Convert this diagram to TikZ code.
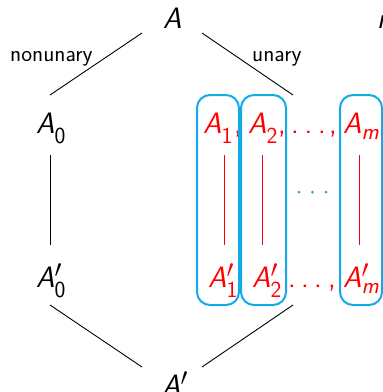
\documentclass[tikz,border=0pt]{standalone}
\usepackage{amsmath}
\usepackage{fontspec}
\usetikzlibrary{positioning}
\definecolor{boxblue}{RGB}{20,170,230}
\DeclareMathSizes{29.5}{29.5}{23}{17}
% sans oblique variable with optional prime and subscript
\newcommand{\vsym}[2]{\textsf{\slshape A}$^{#1}_{\textsf{#2}}$}
\newcommand{\vsl}[1]{\textsf{\slshape #1}}
\tikzset{
  mv/.style={font=\fontsize{29.5}{34}\selectfont\sffamily, inner sep=0pt, anchor=base west},
  pun/.style={font=\fontsize{29.5}{34}\selectfont\sffamily, inner sep=0pt, anchor=base, text=red},
  elabel/.style={font=\fontsize{23}{27}\selectfont\sffamily, inner sep=0pt, anchor=base west},
  link/.style={line width=0.9pt, black},
  rlink/.style={line width=0.8pt, red},
  ubox/.style={draw=boxblue, line width=2pt, rounded corners=13pt, inner sep=0pt},
}
\begin{document}
\begin{tikzpicture}[x=1pt,y=-1pt]
\useasboundingbox (0,0) rectangle (383,392);

% black chain
\node[mv] (A)   at (163,28)  {\vsym{}{}};
\node[mv] (A0)  at (36,133)  {\vsym{}{0}};
\node[mv] (A0p) at (36,287)  {\vsym{\prime}{0}};
\node[mv] (Ap)  at (162,395) {\vsym{\prime}{}};
\node[mv] (rt)  at (377,28)  {\vsl{n}};

% edge labels
\node[elabel] (ln) at (10,61)  {nonunary};
\node[elabel] (lu) at (252,61) {unary};

% red rows
\node[mv, text=red] (a1)  at (203,133) {\vsym{}{1}};
\node[mv, text=red] (a2)  at (248,133) {\vsym{}{2}};
\node[mv, text=red] (am)  at (343,133) {\vsym{}{\slshape m}};
\node[mv, text=red] (a1p) at (208,287) {\vsym{\prime}{1}};
\node[mv, text=red] (a2p) at (252,287) {\vsym{\prime}{2}};
\node[mv, text=red] (amp) at (343,287) {\vsym{\prime}{\slshape m}};

\foreach \x [count=\i] in {238,282,333} \node[pun] (tc\i) at (\x,133) {,};
\foreach \x [count=\i] in {295,308.5,322} \node[pun] (td\i) at (\x,133) {.};
\foreach \x [count=\i] in {241,332} \node[pun] (bc\i) at (\x,287) {,};
\foreach \x [count=\i] in {292,305,318} \node[pun] (bd\i) at (\x,287) {.};

% blue groups
\node[ubox, minimum width=42pt, minimum height=210pt] (g1) at (218,200) {};
\node[ubox, minimum width=45pt, minimum height=210pt] (g2) at (263.5,200) {};
\node[ubox, minimum width=42pt, minimum height=210pt] (g3) at (361,200) {};
\foreach \x in {299,312.5,326} \fill[boxblue] (\x,192) circle (1.5pt);

% connector ends
\coordinate (At1) at (142,33);  \coordinate (Ab1) at (50,95);
\coordinate (At2) at (202,33);  \coordinate (Ab2) at (293,95);
\coordinate (L0t) at (50,155);  \coordinate (L0b) at (50,245);
\coordinate (Pt1) at (50,305);  \coordinate (Pb1) at (142,367);
\coordinate (Pt2) at (293,305); \coordinate (Pb2) at (202,367);
\draw[link] (At1) -- (Ab1);
\draw[link] (At2) -- (Ab2);
\draw[link] (L0t) -- (L0b);
\draw[link] (Pt1) -- (Pb1);
\draw[link] (Pt2) -- (Pb2);

\foreach \x [count=\i] in {224,262,359} {
  \coordinate (r\i t) at (\x,155);
  \coordinate (r\i b) at (\x,245);
  \draw[rlink] (r\i t) -- (r\i b);
}
\end{tikzpicture}
\end{document}
